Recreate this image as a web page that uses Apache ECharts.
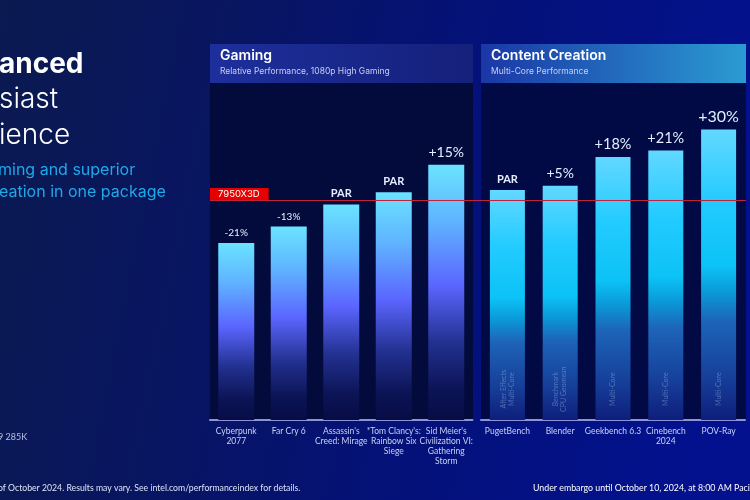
<!DOCTYPE html>
<html>
<head>
<meta charset="utf-8">
<script src="https://cdn.jsdelivr.net/npm/echarts@6/dist/echarts.min.js"></script>
<style>
html,body{margin:0;padding:0;background:#07145a;}
#chart{width:750px;height:500px;}
</style>
</head>
<body>
<div id="chart"></div>
<script>
// ---- data ----
const gamingCategories = ['Cyberpunk\n2077', 'Far Cry 6', "Assassin's\nCreed: Mirage", "*Tom Clancy's:\nRainbow Six\nSiege", "Sid Meier's\nCivilization VI:\nGathering\nStorm"];
const gamingValues = [80.5, 88, 98, 103.5, 116];
const gamingLabels = ['-21%', '-13%', 'PAR', 'PAR', '+15%'];

const creationCategories = ['PugetBench', 'Blender', 'Geekbench 6.3', 'Cinebench\n2024', 'POV-Ray'];
const creationValues = [104.5, 106.5, 119.5, 122.5, 132];
const creationLabels = ['PAR', '+5%', '+18%', '+21%', '+30%'];
const creationSubLabels = ['After Effects\nMulti-Core', 'Benchmark\nCPU Geomean', 'Multi-Core', 'Multi-Core', 'Multi-Core'];

const baselineName = '7950X3D';
const baselineValue = 100;

// ---- styles ----
const FONT = 'Inter, "Open Sans", sans-serif';
const SMALL = 'Lato, Inter, sans-serif';
const gamingLabelSizes = [10, 10, 11, 11, 14];
const creationLabelSizes = [11, 14, 14.5, 14.5, 16];

function grad(stops) {
  return new echarts.graphic.LinearGradient(0, 0, 0, 1, stops.map(s => ({offset: s[0], color: s[1]})));
}
const gamingBarColor = grad([[0, '#6ae3ff'], [0.22, '#5fb4ff'], [0.47, '#5b66ff'], [0.7, '#22308f'], [0.88, '#0c1456'], [1, '#070c45']]);
const creationBarColor = grad([[0, '#62d8ff'], [0.25, '#22cbff'], [0.47, '#0cc2f6'], [0.56, '#0a9ad8'], [0.66, '#1d64b8'], [0.85, '#16409a'], [1, '#0e1e7c']]);

function barData(values, labels, sizes) {
  return values.map((v, i) => ({
    value: v,
    label: {
      show: true, position: 'top', distance: 5,
      formatter: labels[i], color: '#e6eeff', fontFamily: SMALL,
      fontSize: sizes[i], fontWeight: labels[i] === 'PAR' ? 'bold' : 'normal'
    }
  }));
}

const axisLabelStyle = {color: '#c9d1f2', fontSize: 8.5, lineHeight: 10, fontFamily: SMALL, margin: 6, interval: 0};
const axisLineStyle = {show: true, lineStyle: {color: '#8d93d8', width: 2}};

const chart = echarts.init(document.getElementById('chart'), null, {renderer: 'canvas'});
const subLabelY = 14;

const option = {
  animation: false,
  backgroundColor: 'transparent',
  grid: [
    {left: 210, right: 277.5, top: 90, bottom: 80},
    {left: 481, right: 5, top: 90, bottom: 80},
    {left: 210, right: 4, top: 90, bottom: 80}
  ],
  xAxis: [
    {type: 'category', gridIndex: 0, data: gamingCategories, axisLine: axisLineStyle, axisTick: {show: false}, axisLabel: axisLabelStyle},
    {type: 'category', gridIndex: 1, data: creationCategories, axisLine: axisLineStyle, axisTick: {show: false}, axisLabel: axisLabelStyle},
    {type: 'value', gridIndex: 2, min: 0, max: 1, show: false},
    {type: 'category', gridIndex: 1, data: creationCategories, show: false}
  ],
  yAxis: [
    {type: 'value', gridIndex: 0, min: 0, max: 150, show: false},
    {type: 'value', gridIndex: 1, min: 0, max: 150, show: false},
    {type: 'value', gridIndex: 2, min: 0, max: 150, show: false}
  ],
  graphic: {
    elements: [
      {type: 'rect', z: -20, shape: {x: 0, y: 0, width: 750, height: 500}, silent: true,
        style: {fill: new echarts.graphic.LinearGradient(0, 0, 1, 0.3, [
          {offset: 0, color: '#0b1a50'}, {offset: 0.3, color: '#081560'}, {offset: 0.65, color: '#04117a'}, {offset: 1, color: '#03118e'}])}},
      // panel bodies
      {type: 'rect', z: -10, shape: {x: 210, y: 83, width: 263, height: 337}, style: {fill: '#030a3c'}, silent: true},
      {type: 'rect', z: -10, shape: {x: 481, y: 83, width: 265, height: 337}, style: {fill: '#010a45'}, silent: true},
      // headers
      {type: 'rect', z: -10, shape: {x: 210, y: 44, width: 263, height: 39}, silent: true,
        style: {fill: new echarts.graphic.LinearGradient(0, 0, 1, 0, [{offset: 0, color: '#1d2f9c'}, {offset: 1, color: '#15207a'}])}},
      {type: 'rect', z: -10, shape: {x: 481, y: 44, width: 265, height: 39}, silent: true,
        style: {fill: new echarts.graphic.LinearGradient(0, 0, 1, 0, [{offset: 0, color: '#1a37a6'}, {offset: 1, color: '#2b9bd2'}])}},
      {type: 'text', z: 10, x: 220, y: 49, style: {text: 'Gaming', fill: '#ffffff', font: '600 14px ' + FONT}},
      {type: 'text', z: 10, x: 220, y: 67, style: {text: 'Relative Performance, 1080p High Gaming', fill: '#c8d0f2', font: '8.5px ' + FONT}},
      {type: 'text', z: 10, x: 491, y: 49, style: {text: 'Content Creation', fill: '#ffffff', font: '600 14px ' + FONT}},
      {type: 'text', z: 10, x: 491, y: 67, style: {text: 'Multi-Core Performance', fill: '#c8d0f2', font: '8.5px ' + FONT}},
      // left headline (cropped slide)
      {type: 'text', z: 10, x: -1, y: 51, style: {text: 'anced', fill: '#ffffff', font: 'bold 28px ' + FONT}},
      {type: 'text', z: 10, x: -1, y: 86, style: {text: 'siast', fill: '#ffffff', font: '300 28px ' + FONT}},
      {type: 'text', z: 10, x: -1, y: 122, style: {text: 'ience', fill: '#ffffff', font: '300 28px ' + FONT}},
      {type: 'text', z: 10, x: -2, y: 162, style: {text: 'ming and superior', fill: '#1fa8e8', font: '16px ' + FONT}},
      {type: 'text', z: 10, x: -1, y: 184, style: {text: 'eation in one package', fill: '#1fa8e8', font: '16px ' + FONT}},
      // footnotes
      {type: 'text', z: 10, x: -2, y: 433, style: {text: '9 285K', fill: '#b8c0e0', font: '9px ' + SMALL}},
      {type: 'text', z: 10, x: -2, y: 484, style: {text: 'of October 2024. Results may vary. See intel.com/performanceindex for details.', fill: '#dde4f8', font: '8.7px ' + SMALL}},
      {type: 'text', z: 10, x: 533, y: 484, style: {text: 'Under embargo until October 10, 2024, at 8:00 AM Pacific', fill: '#ffffff', font: '8.8px ' + SMALL}}
    ]
  },
  series: [
    {type: 'bar', xAxisIndex: 0, yAxisIndex: 0, barWidth: 36, itemStyle: {color: gamingBarColor},
      data: barData(gamingValues, gamingLabels, gamingLabelSizes)},
    {type: 'bar', xAxisIndex: 1, yAxisIndex: 1, barWidth: 35, itemStyle: {color: creationBarColor},
      data: barData(creationValues, creationLabels, creationLabelSizes)},
    {type: 'scatter', xAxisIndex: 3, yAxisIndex: 1, symbolSize: 0, z: 5, silent: true,
      data: creationSubLabels.map((t, i) => ({value: [creationCategories[i], subLabelY]})),
      label: {show: true, position: 'inside', rotate: 90, fontSize: 7, lineHeight: 8, fontFamily: SMALL,
        color: 'rgba(190,212,245,0.45)', formatter: p => creationSubLabels[p.dataIndex]}},
    {type: 'line', xAxisIndex: 2, yAxisIndex: 2, data: [], z: 10,
      markLine: {silent: true, symbol: 'none', animation: false,
        lineStyle: {color: '#c0223c', width: 1, type: 'solid'},
        label: {show: true, position: 'insideStartTop', distance: 0, formatter: baselineName,
          color: '#ffffff', backgroundColor: '#e80000', fontSize: 9.5, fontFamily: FONT, padding: [1, 9, 1, 8]},
        data: [{yAxis: baselineValue}]}}
  ]
};
chart.setOption(option);
</script>
</body>
</html>
